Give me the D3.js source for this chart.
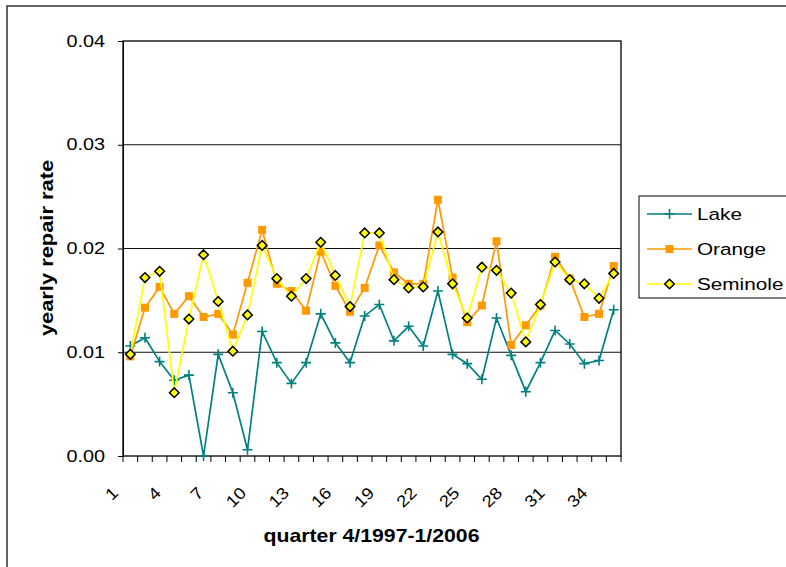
<!DOCTYPE html>
<html>
<head>
<meta charset="utf-8">
<script src="https://cdn.jsdelivr.net/npm/d3@7"></script>
<style>
  html, body { margin: 0; padding: 0; background: #fff; }
  svg { display: block; }
  text { font-family: "Liberation Sans", Arial, sans-serif; fill: #000; }
</style>
</head>
<body>
<svg id="chart" width="786" height="567"></svg>
<script>
// Quarterly data, 4/1997 through 1/2006
const quarters = [1,2,3,4,5,6,7,8,9,10,11,12,13,14,15,16,17,18,19,20,21,22,23,24,25,26,27,28,29,30,31,32,33,34];
const shownTicks = [1,4,7,10,13,16,19,22,25,28,31,34];
const yTicks = [0, 0.01, 0.02, 0.03, 0.04];

const lake = [0.0106,0.0114,0.0091,0.0073,0.0078,0.0000,0.0098,0.0061,0.0006,0.0120,
              0.0090,0.0070,0.0090,0.0137,0.0109,0.0090,0.0135,0.0146,0.0111,0.0125,
              0.0106,0.0159,0.0098,0.0089,0.0074,0.0133,0.0097,0.0062,0.0090,0.0121,
              0.0108,0.0089,0.0092,0.0141];
const orange = [0.0096,0.0143,0.0163,0.0137,0.0154,0.0134,0.0137,0.0117,0.0167,0.0218,
                0.0166,0.0159,0.0140,0.0197,0.0164,0.0139,0.0162,0.0203,0.0177,0.0166,
                0.0166,0.0247,0.0172,0.0129,0.0145,0.0207,0.0107,0.0126,0.0145,0.0192,
                0.0171,0.0134,0.0137,0.0183];
const seminole = [0.0098,0.0172,0.0178,0.0061,0.0132,0.0194,0.0149,0.0101,0.0136,0.0203,
                  0.0171,0.0154,0.0171,0.0206,0.0174,0.0144,0.0215,0.0215,0.0170,0.0162,
                  0.0163,0.0216,0.0166,0.0133,0.0182,0.0179,0.0157,0.0110,0.0146,0.0187,
                  0.0170,0.0166,0.0152,0.0176];

const seriesNames = ["Lake", "Orange", "Seminole"];

const svg = d3.select("#chart");
const plot = { left: 123, right: 621, top: 41, bottom: 456 };

// outer chart frame (only top and left edges fall inside the page)
svg.append("rect")
  .attr("x", 7).attr("y", 6).attr("width", 900).attr("height", 700)
  .attr("fill", "none").attr("stroke", "#333").attr("stroke-width", 1.5);

const x = d3.scaleBand().domain(quarters).range([plot.left, plot.right]);
const cx = q => x(q) + x.bandwidth() / 2;
const y = d3.scaleLinear().domain([0, 0.04]).range([plot.bottom, plot.top]);

// horizontal gridlines
svg.append("g").selectAll("line")
  .data(yTicks.slice(1, -1)).join("line")
  .attr("x1", plot.left).attr("x2", plot.right)
  .attr("y1", d => y(d)).attr("y2", d => y(d))
  .attr("stroke", "#111").attr("stroke-width", 1);

// plot area frame
svg.append("rect")
  .attr("x", plot.left).attr("y", plot.top)
  .attr("width", plot.right - plot.left).attr("height", plot.bottom - plot.top)
  .attr("fill", "none").attr("stroke", "#222").attr("stroke-width", 1.5);

// y axis
const yAxis = d3.axisLeft(y).tickValues(yTicks).tickFormat(d3.format(".2f")).tickSize(5).tickPadding(13);
const gy = svg.append("g").attr("transform", `translate(${plot.left},0)`).call(yAxis);
gy.select(".domain").attr("stroke", "#000");
gy.selectAll(".tick line").attr("stroke", "#000");
gy.selectAll(".tick text")
  .style("font-family", '"Liberation Sans", Arial, sans-serif')
  .style("font-size", "16px")
  .attr("fill", "#000");
// stretch each y label horizontally, keeping its right edge fixed
gy.selectAll(".tick text").each(function () {
  const t = d3.select(this);
  const xr = +t.attr("x");
  t.attr("transform", `translate(${xr},0) scale(1.24,1) translate(${-xr},0)`);
});

// x axis: a tick at every category boundary
const gx = svg.append("g").attr("transform", `translate(0,${plot.bottom})`);
const boundaries = quarters.map(q => x(q)).concat([x(quarters[quarters.length - 1]) + x.bandwidth()]);
gx.selectAll("line.tk").data(boundaries).join("line")
  .attr("class", "tk")
  .attr("x1", d => d).attr("x2", d => d)
  .attr("y1", 0).attr("y2", 6)
  .attr("stroke", "#000").attr("stroke-width", 1);

// rotated category labels, packed slightly tighter than the categories
gx.selectAll("text.lbl").data(shownTicks).join("text")
  .attr("class", "lbl")
  .attr("text-anchor", "end")
  .attr("font-size", "16.5px")
  .attr("transform", d => `translate(${cx(d) - 11 - 0.43 * (d - 1)},${38}) rotate(-45) scale(1.12,1)`)
  .text(d => d);

// axis titles
svg.append("text")
  .attr("text-anchor", "middle")
  .attr("font-weight", "bold")
  .attr("font-size", "18px")
  .attr("transform", `translate(371.5,542) scale(1.18,1)`)
  .text("quarter 4/1997-1/2006");

svg.append("text")
  .attr("text-anchor", "middle")
  .attr("font-weight", "bold")
  .attr("font-size", "17.5px")
  .attr("transform", `translate(52.5,248) rotate(-90) scale(1.25,1)`)
  .text("yearly repair rate");

// series
const styles = {
  Lake: { color: "#008080", width: 1.7 },
  Orange: { color: "#FF9900", width: 1.7 },
  Seminole: { color: "#FFFF00", width: 1.7 }
};
const seriesData = { Lake: lake, Orange: orange, Seminole: seminole };

const line = d3.line().x((d, i) => cx(quarters[i])).y(d => y(d));

function drawMarker(g, name, px, py) {
  if (name === "Lake") {
    g.append("path")
      .attr("d", `M${px - 5},${py}H${px + 5}M${px},${py - 5}V${py + 5}`)
      .attr("stroke", styles.Lake.color).attr("stroke-width", 1.6).attr("fill", "none");
  } else if (name === "Orange") {
    g.append("rect")
      .attr("x", px - 4).attr("y", py - 4).attr("width", 8).attr("height", 8)
      .attr("fill", styles.Orange.color);
  } else {
    g.append("path")
      .attr("d", `M${px},${py - 4.8}L${px + 4.8},${py}L${px},${py + 4.8}L${px - 4.8},${py}Z`)
      .attr("fill", styles.Seminole.color).attr("stroke", "#000").attr("stroke-width", 1.5);
  }
}

seriesNames.forEach(name => {
  const vals = seriesData[name];
  const g = svg.append("g");
  g.append("path")
    .datum(vals)
    .attr("d", line)
    .attr("fill", "none")
    .attr("stroke", styles[name].color)
    .attr("stroke-width", styles[name].width)
    .attr("stroke-linejoin", "miter");
  vals.forEach((v, i) => drawMarker(g, name, cx(quarters[i]), y(v)));
});

// legend
const legend = svg.append("g");
legend.append("rect")
  .attr("x", 639).attr("y", 196).attr("width", 200).attr("height", 102)
  .attr("fill", "#fff").attr("stroke", "#000").attr("stroke-width", 1);
const legendY = [214, 249, 284];
seriesNames.forEach((name, i) => {
  const ly = legendY[i];
  legend.append("line")
    .attr("x1", 647).attr("x2", 692).attr("y1", ly).attr("y2", ly)
    .attr("stroke", styles[name].color).attr("stroke-width", styles[name].width);
  drawMarker(legend, name, 669.5, ly);
  legend.append("text")
    .attr("font-size", "17px")
    .attr("transform", `translate(697,${ly + 6}) scale(1.22,1)`)
    .text(name);
});
</script>
</body>
</html>
